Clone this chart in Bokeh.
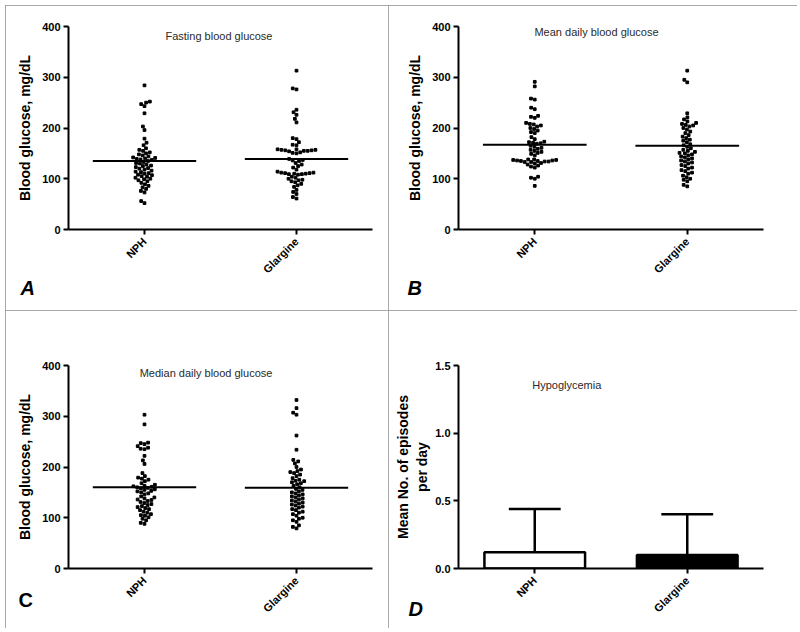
import math
import numpy as np
from bokeh.plotting import figure
from bokeh.layouts import gridplot
from bokeh.models import Range1d, FixedTicker, Label, PrintfTickFormatter, Title
from bokeh.embed import file_html
from bokeh.resources import INLINE

categories = ["NPH", "Glargine"]

fasting_nph = [284, 252, 250, 247, 243, 229, 203, 196, 179, 171, 166, 160, 157, 155, 152, 150, 148, 146, 144,
               142, 141, 140, 139, 138, 137, 135, 133, 131, 130, 128, 126, 125, 123, 121, 120, 118, 116, 114,
               113, 111, 110, 108, 107, 105, 104, 102, 100, 99, 97, 95, 92, 89, 86, 83, 80, 76, 73, 56, 52]
fasting_glargine = [313, 278, 276, 236, 231, 226, 218, 211, 180, 178, 172, 167, 166, 158, 158, 157, 157, 156,
                    156, 155, 155, 154, 152, 151, 150, 139, 137, 136, 135, 131, 128, 125, 122, 118, 114, 112,
                    112, 111, 111, 110, 110, 109, 109, 108, 104, 102, 100, 98, 97, 95, 93, 90, 87, 84, 78, 74,
                    70, 64, 61]
mean_nph = [291, 282, 258, 256, 240, 237, 224, 222, 220, 210, 208, 207, 205, 203, 200, 198, 195, 192, 190, 182,
            178, 173, 172, 171, 170, 169, 165, 163, 161, 159, 157, 155, 153, 151, 149, 146, 138, 138, 137, 137,
            136, 136, 135, 135, 134, 134, 133, 133, 131, 130, 128, 126, 124, 122, 104, 102, 100, 86]
mean_glargine = [313, 295, 290, 229, 221, 217, 213, 210, 208, 206, 205, 203, 200, 197, 193, 190, 186, 183, 180,
                 177, 175, 172, 168, 166, 163, 160, 157, 155, 153, 151, 150, 148, 146, 144, 142, 140, 138, 136,
                 134, 132, 130, 127, 125, 122, 120, 117, 115, 112, 110, 106, 103, 100, 98, 95, 88, 85]
median_nph = [303, 284, 248, 247, 245, 241, 238, 236, 235, 222, 213, 206, 188, 182, 179, 177, 175, 172, 168, 165,
              163, 162, 161, 160, 159, 158, 156, 155, 153, 152, 150, 148, 146, 142, 140, 138, 136, 135, 133, 131,
              129, 127, 125, 123, 121, 119, 117, 115, 112, 110, 107, 105, 104, 101, 98, 95, 90, 88]
median_glargine = [332, 316, 307, 303, 262, 234, 214, 211, 207, 200, 195, 192, 190, 188, 185, 182, 178, 175, 173,
                   172, 170, 168, 166, 163, 160, 157, 155, 152, 150, 148, 146, 144, 142, 140, 138, 136, 134, 132,
                   130, 128, 126, 124, 122, 120, 117, 115, 112, 110, 107, 104, 100, 98, 95, 92, 85, 82, 79]

fasting_center = [135, 139]
mean_center = [167, 165]
median_center = [160, 159]

hypo_mean = [0.12, 0.10]
hypo_upper = [0.44, 0.40]

glucose_ticks = [0, 100, 200, 300, 400]
hypo_ticks = [0, 0.5, 1.0, 1.5]

FONT = "Liberation Sans"
X_POS = [0.5, 1.5]


def swarm(values, center, ppu_y, ppu_x, d=3.9):
    vals = np.asarray(values, dtype=float)
    order = np.argsort(vals)
    placed = []
    xs = np.zeros(len(vals))
    for i in order:
        y = vals[i] * ppu_y
        forb = []
        for py, px in placed:
            dy = abs(py - y)
            if dy < d:
                w = math.sqrt(d * d - dy * dy)
                forb.append((px - w, px + w))
        cands = [0.0] + [e for iv in forb for e in iv]
        cands.sort(key=lambda c: (abs(c), c))
        for c in cands:
            if all(c <= a + 1e-9 or c >= b - 1e-9 for a, b in forb):
                break
        placed.append((y, c))
        xs[i] = center + c / ppu_x
    return xs


def base(width, height, left, right, top, bottom, yend, yticks, ylabel):
    p = figure(width=width, height=height, x_range=Range1d(0, 2), y_range=Range1d(0, yend),
               output_backend="svg", toolbar_location=None,
               min_border_left=left, min_border_right=right, min_border_top=top, min_border_bottom=bottom,
               styles={"outline": "1px solid #8c8c8c", "outline-offset": "-1px"})
    p.outline_line_color = None
    p.xgrid.visible = False
    p.ygrid.visible = False
    for ax in (p.xaxis[0], p.yaxis[0]):
        ax.axis_line_width = 2
        ax.axis_line_color = "black"
        ax.major_tick_line_width = 2
        ax.major_tick_out = 5
        ax.major_tick_in = 0
        ax.minor_tick_line_color = None
        ax.major_label_text_font = FONT
        ax.major_label_text_font_style = "bold"
        ax.major_label_text_font_size = "11px"
        ax.major_label_text_color = "black"
        ax.major_label_standoff = 3
    p.xaxis.ticker = FixedTicker(ticks=X_POS)
    p.xaxis.major_label_overrides = {X_POS[0]: categories[0], X_POS[1]: categories[1]}
    p.xaxis.major_label_orientation = math.pi / 4
    p.xaxis.major_label_standoff = 5
    p.yaxis.ticker = FixedTicker(ticks=yticks)
    p.yaxis.axis_label = ylabel
    p.yaxis.axis_label_text_font = FONT
    p.yaxis.axis_label_text_font_style = "bold"
    p.yaxis.axis_label_text_font_size = "14px"
    p.yaxis.axis_label_text_color = "black"
    p.yaxis.axis_label_standoff = 6
    return p


def add_letter(p, letter, style, offset, standoff, valign="bottom"):
    p.add_layout(Title(text=letter, align="left", vertical_align=valign, offset=offset, standoff=standoff,
                       text_font=FONT, text_font_size="20px", text_font_style=style, text_color="black"),
                 "below")


def scatter_panel(width, height, left, right, top, bottom, fw, fh, nph, gla, centers, title, title_x, title_y):
    p = base(width, height, left, right, top, bottom, 400, glucose_ticks, "Blood glucose, mg/dL")
    ppu_y = fh / 400.0
    ppu_x = fw / 2.0
    for vals, cx in ((nph, X_POS[0]), (gla, X_POS[1])):
        xs = swarm(vals, cx, ppu_y, ppu_x)
        p.scatter(xs, vals, marker="square", size=2.7, color="black")
    p.segment(x0=[x - 0.34 for x in X_POS], y0=centers, x1=[x + 0.34 for x in X_POS], y1=centers,
              line_color="black", line_width=2)
    p.add_layout(Label(x=title_x, y=title_y, text=title, text_font=FONT, text_font_size="11px",
                       text_color="#2a2a2a", text_align="center", text_baseline="middle"))
    return p


pa = scatter_panel(383, 305, 63, 15, 21, 81, 305, 203, fasting_nph, fasting_glargine, fasting_center,
                   "Fasting blood glucose", 0.99, 382)
add_letter(pa, "A", "bold italic", -48, -16)
pb = scatter_panel(409, 305, 70, 34, 21, 81, 305, 203, mean_nph, mean_glargine, mean_center,
                   "Mean daily blood glucose", 0.905, 390)
add_letter(pb, "B", "bold italic", -51, -16)
pc = scatter_panel(383, 318, 62, 16, 55, 60, 305, 203, median_nph, median_glargine, median_center,
                   "Median daily blood glucose", 0.905, 386)
add_letter(pc, "C", "bold", -50, -66, "top")

pd = base(409, 318, 65, 21, 45, 59, 1.5, hypo_ticks, "Mean No. of episodes\nper day")
pd.yaxis.formatter = PrintfTickFormatter(format="%.1f")
pd.yaxis.axis_label_standoff = 2
pd.vbar(x=X_POS, top=hypo_mean, width=0.66, bottom=0, fill_color=["white", "black"],
        line_color="black", line_width=2.5)
pd.segment(x0=X_POS, y0=hypo_mean, x1=X_POS, y1=hypo_upper, line_color="black", line_width=2.5)
pd.segment(x0=[x - 0.17 for x in X_POS], y0=hypo_upper, x1=[x + 0.17 for x in X_POS], y1=hypo_upper,
           line_color="black", line_width=2.5)
pd.add_layout(Label(x=0.71, y=1.355, text="Hypoglycemia", text_font=FONT, text_font_size="11px",
                    text_color="#2a2a2a", text_align="center", text_baseline="middle"))
add_letter(pd, "D", "bold italic", -50, -48, "top")

grid = gridplot([[pa, pb], [pc, pd]], toolbar_location=None)
grid.margin = (5, 0, 0, 5)

open("out.html", "w").write(file_html(grid, INLINE))
